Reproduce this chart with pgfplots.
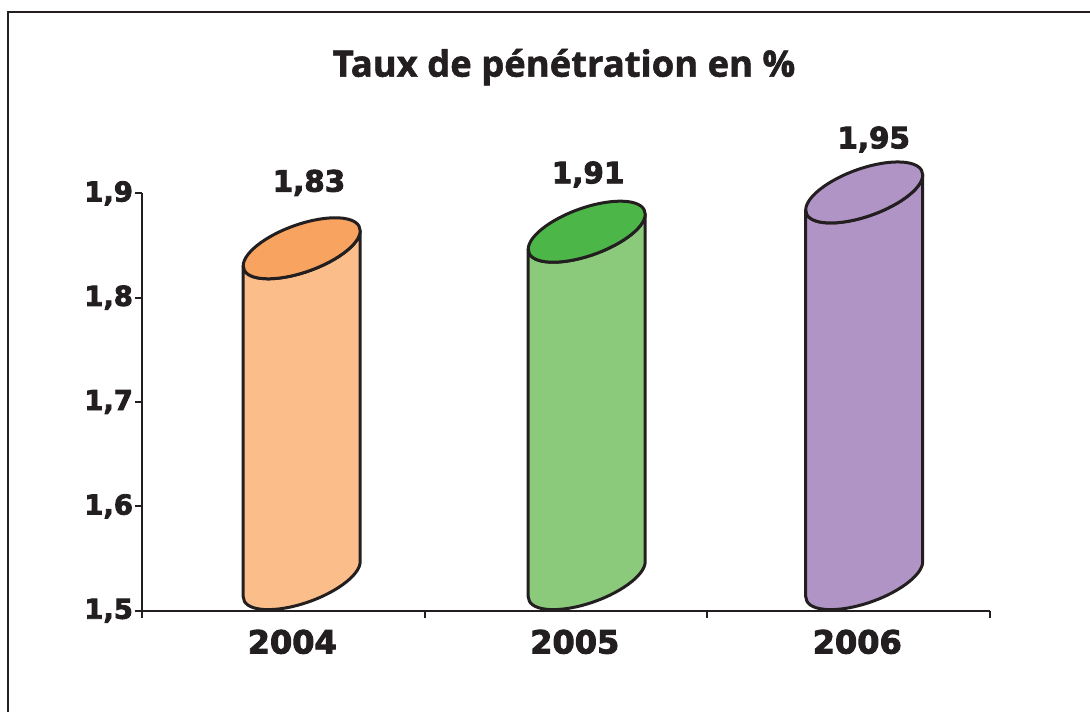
\documentclass[border=0pt]{standalone}
\usepackage{pgfplots}
\usepackage{pgfplotstable}
\pgfplotsset{compat=1.18}
\usepackage{fontspec}
\newfontfamily\dvb[FakeBold=3]{DejaVu Sans Bold}
\newfontfamily\tf[FakeBold=1.5]{Open Sans Bold}

\definecolor{linec}{RGB}{35,31,32}
\definecolor{obody}{RGB}{251,190,139}
\definecolor{otop}{RGB}{248,163,96}
\definecolor{gbody}{RGB}{139,202,122}
\definecolor{gtop}{RGB}{77,182,72}
\definecolor{pbody}{RGB}{176,148,198}
\definecolor{ptop}{RGB}{176,148,198}

\pgfplotstableread{
year x top lx ly v
2004 1.0653 1.8473 1.091 1.9016 1.83
2005 2.0742 1.8632 2.079 1.9096 1.91
2006 3.0565 1.9008 3.090 1.9431 1.95
}\data

% cylinder geometry (pt)
\def\cax{29.25}\def\cay{8.75}\def\cbk{12.5}\def\ck{0.5523}
\def\cylP#1#2#3{\pgfpoint{(#1)*\cax}{(#3)+(#1)*\cay+(#2)*\cbk}}

\pgfdeclareplotmark{cylbody}{%
  \pgfmathsetmacro\cH{(\cylY-1.5)*521.75-15.8}%
  \pgfpathmoveto{\cylP{-1}{0}{0}}%
  \pgfpathlineto{\cylP{-1}{0}{-\cH}}%
  \pgfpathcurveto{\cylP{-1}{-\ck}{-\cH}}{\cylP{-\ck}{-1}{-\cH}}{\cylP{0}{-1}{-\cH}}%
  \pgfpathcurveto{\cylP{\ck}{-1}{-\cH}}{\cylP{1}{-\ck}{-\cH}}{\cylP{1}{0}{-\cH}}%
  \pgfpathlineto{\cylP{1}{0}{0}}%
  \pgfpathcurveto{\cylP{1}{-\ck}{0}}{\cylP{\ck}{-1}{0}}{\cylP{0}{-1}{0}}%
  \pgfpathcurveto{\cylP{-\ck}{-1}{0}}{\cylP{-1}{-\ck}{0}}{\cylP{-1}{0}{0}}%
  \pgfpathclose
  \pgfusepathqfillstroke
}
\pgfdeclareplotmark{cylcap}{%
  \pgfpathmoveto{\cylP{1}{0}{0}}%
  \pgfpathcurveto{\cylP{1}{\ck}{0}}{\cylP{\ck}{1}{0}}{\cylP{0}{1}{0}}%
  \pgfpathcurveto{\cylP{-\ck}{1}{0}}{\cylP{-1}{\ck}{0}}{\cylP{-1}{0}{0}}%
  \pgfpathcurveto{\cylP{-1}{-\ck}{0}}{\cylP{-\ck}{-1}{0}}{\cylP{0}{-1}{0}}%
  \pgfpathcurveto{\cylP{\ck}{-1}{0}}{\cylP{1}{-\ck}{0}}{\cylP{1}{0}{0}}%
  \pgfpathclose
  \pgfusepathqfillstroke
}

\begin{document}
\begin{tikzpicture}
\useasboundingbox (0pt,0pt) rectangle (545pt,355.5pt);
\draw[linec, line width=1.1pt] (4pt,-5pt) -- (4pt,349.5pt) -- (552pt,349.5pt);
\begin{axis}[
  at={(71pt,50.15pt)}, anchor=south west,
  x=141.25pt, y=521.75pt,
  xmin=0.5, xmax=3.5, ymin=1.5, ymax=1.9,
  axis x line*=bottom, axis y line*=left,
  axis line style={draw=linec, line width=1pt},
  tick align=outside, major tick length=3.5pt,
  tick style={draw=linec, line width=1pt},
  ytick={1.5,1.6,1.7,1.8,1.9},
  yticklabel style={/pgf/number format/use comma, /pgf/number format/fixed,
    /pgf/number format/fixed zerofill, /pgf/number format/precision=1,
    font=\dvb\fontsize{13.7}{15}\selectfont, text=linec, xshift=2.5pt},
  xtick={0.5,1.5,2.5,3.5}, xticklabels={,,,},
  extra x ticks={1,2,3}, extra x tick labels={2004,2005,2006},
  extra x tick style={major tick length=0pt},
  xticklabel style={font=\dvb\fontsize{16}{18}\selectfont, text=linec, xshift=4.5pt, yshift=-6pt},
  /pgf/number format/assume math mode=true,
  clip=false,
  visualization depends on={\thisrow{top} \as \cylY},
]
% bodies
\addplot[only marks, mark=cylbody, restrict x to domain=0.5:1.5,
  mark options={draw=linec, fill=obody, line width=1.5pt, line join=round}] table[x=x,y=top] {\data};
\addplot[only marks, mark=cylbody, restrict x to domain=1.5:2.5,
  mark options={draw=linec, fill=gbody, line width=1.5pt, line join=round}] table[x=x,y=top] {\data};
\addplot[only marks, mark=cylbody, restrict x to domain=2.5:3.5,
  mark options={draw=linec, fill=pbody, line width=1.5pt, line join=round}] table[x=x,y=top] {\data};
% caps
\addplot[only marks, mark=cylcap, restrict x to domain=0.5:1.5,
  mark options={draw=linec, fill=otop, line width=1.5pt}] table[x=x,y=top] {\data};
\addplot[only marks, mark=cylcap, restrict x to domain=1.5:2.5,
  mark options={draw=linec, fill=gtop, line width=1.5pt}] table[x=x,y=top] {\data};
\addplot[only marks, mark=cylcap, restrict x to domain=2.5:3.5,
  mark options={draw=linec, fill=ptop, line width=1.5pt}] table[x=x,y=top] {\data};
% value labels
\addplot[draw=none, mark=none, point meta=\thisrow{v},
  nodes near coords={\pgfmathprintnumber[use comma,fixed,fixed zerofill,precision=2]{\pgfplotspointmeta}},
  every node near coord/.append style={anchor=base, inner sep=0pt, text=linec,
    font=\dvb\fontsize{14.7}{16}\selectfont}]
  table[x=lx,y=ly] {\data};
\end{axis}
\node[anchor=base, inner sep=0pt, text=linec, font=\tf\fontsize{18.2}{21}\selectfont]
  at (282pt,317.15pt) {Taux de pénétration en \%};
\end{tikzpicture}
\end{document}
